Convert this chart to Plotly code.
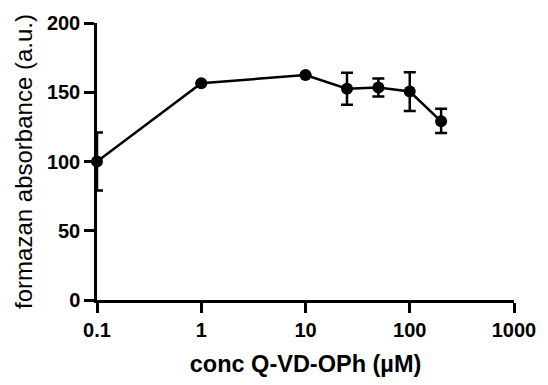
import plotly.graph_objects as go

conc = [0.1, 1, 10, 25, 50, 100, 200]
absorb = [100, 156.5, 162.5, 152.5, 153.5, 150.5, 129]
err_plus = [21, 0, 0, 11.5, 6.5, 14, 9]
err_minus = [21, 0, 0, 11.5, 6.5, 14, 8.5]

x_ticks = [0.1, 1, 10, 100, 1000]
x_tick_labels = ["0.1", "1", "10", "100", "1000"]
y_ticks = [0, 50, 100, 150, 200]

fig = go.Figure()
fig.add_trace(go.Scatter(
    x=conc, y=absorb, mode="lines+markers",
    line=dict(color="black", width=2.5),
    marker=dict(color="black", size=12, symbol="circle"),
    error_y=dict(type="data", symmetric=False, array=err_plus, arrayminus=err_minus,
                 color="black", thickness=2.5, width=6, visible=True),
    cliponaxis=False, showlegend=False,
))

fig.update_layout(
    width=548, height=385,
    margin=dict(l=97, r=31, t=21, b=84),
    plot_bgcolor="white", paper_bgcolor="white",
    font=dict(family="Liberation Sans, Arial, sans-serif", color="black"),
)
fig.update_xaxes(
    type="log", range=[-1, 3],
    tickvals=x_ticks, ticktext=x_tick_labels,
    showline=True, linecolor="black", linewidth=2.5,
    ticks="outside", ticklen=10, tickwidth=2.5, tickcolor="black",
    showgrid=False, zeroline=False,
    tickfont=dict(size=20, family="Liberation Sans, Arial", weight="bold"),
    title=dict(text="<b>conc Q-VD-OPh (µM)</b>", font=dict(size=23.5), standoff=16),
)
fig.update_yaxes(
    range=[0, 200], tickvals=y_ticks,
    showline=True, linecolor="black", linewidth=2.5,
    ticks="outside", ticklen=10, tickwidth=2.5, tickcolor="black",
    showgrid=False, zeroline=False,
    tickfont=dict(size=20, family="Liberation Sans, Arial", weight="bold"),
    title=dict(text="formazan absorbance (a.u.)", font=dict(size=24), standoff=8),
)

fig.write_html("out.html")
